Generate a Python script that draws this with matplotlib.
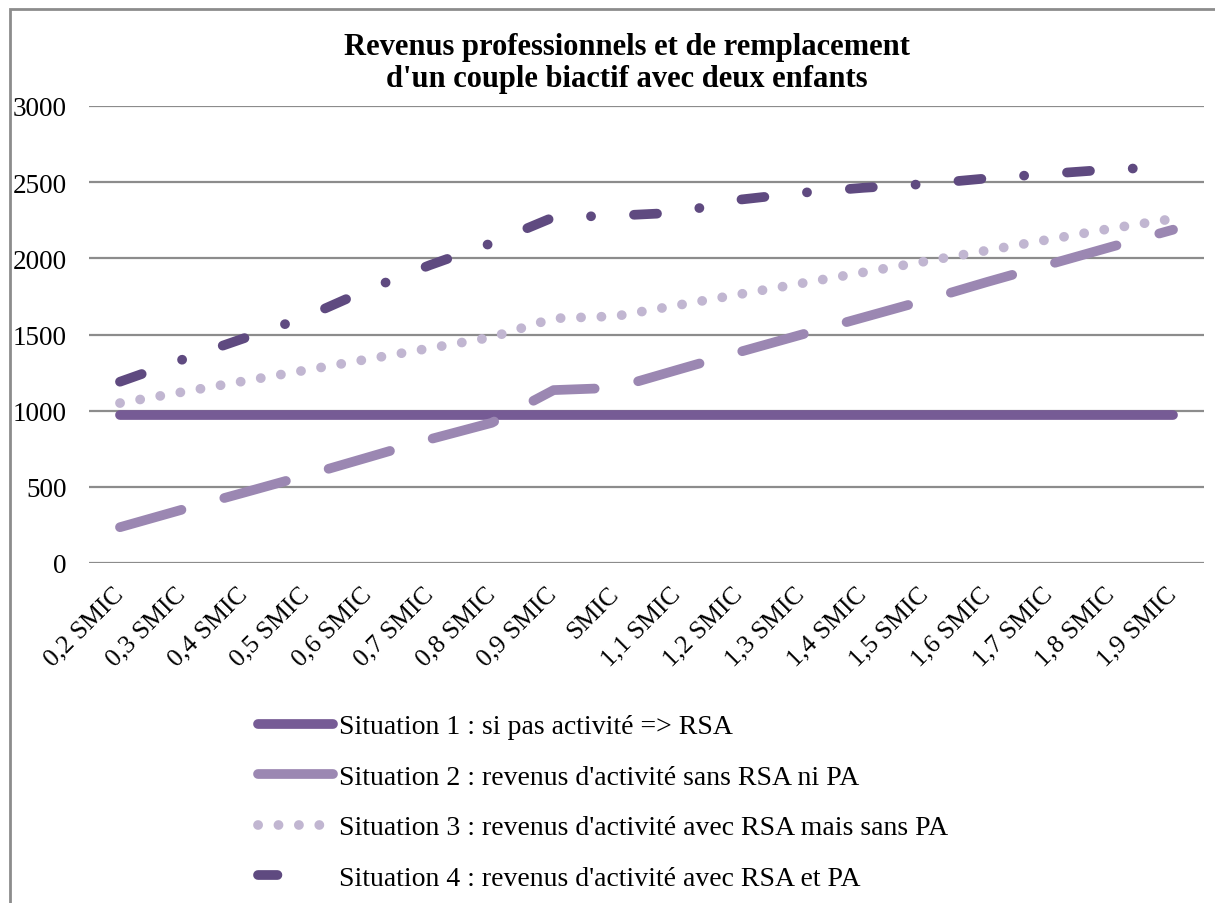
import matplotlib
matplotlib.use('Agg')
import matplotlib.pyplot as plt
from matplotlib.patches import Rectangle
from matplotlib.lines import Line2D

categories = ['0,2 SMIC', '0,3 SMIC', '0,4 SMIC', '0,5 SMIC', '0,6 SMIC', '0,7 SMIC',
              '0,8 SMIC', '0,9 SMIC', 'SMIC', '1,1 SMIC', '1,2 SMIC', '1,3 SMIC',
              '1,4 SMIC', '1,5 SMIC', '1,6 SMIC', '1,7 SMIC', '1,8 SMIC', '1,9 SMIC']
situation1 = [970, 970, 970, 970, 970, 970, 970, 970, 970, 970, 970, 970,
              970, 970, 970, 970, 970, 970]
situation2 = [235, 350, 462, 575, 693, 812, 920, 1135, 1150, 1268, 1385, 1499,
              1612, 1725, 1845, 1960, 2075, 2188]
situation3 = [1050, 1122, 1194, 1266, 1338, 1410, 1482, 1606, 1620, 1692, 1764, 1836,
              1908, 1980, 2052, 2124, 2196, 2260]
situation4 = [1190, 1334, 1475, 1615, 1795, 1955, 2100, 2270, 2280, 2300, 2385, 2430,
              2463, 2488, 2525, 2555, 2584, 2600]
labels = ['Situation 1 : si pas activité => RSA',
          "Situation 2 : revenus d'activité sans RSA ni PA",
          "Situation 3 : revenus d'activité avec RSA mais sans PA",
          "Situation 4 : revenus d'activité avec RSA et PA"]
title_lines = ["Revenus professionnels et de remplacement",
               "d'un couple biactif avec deux enfants"]
yticks = [0, 500, 1000, 1500, 2000, 2500, 3000]

plt.rcParams['font.family'] = ['Liberation Serif', 'DejaVu Serif']
plt.rcParams['lines.scale_dashes'] = False

W, H = 1215, 904
fig = plt.figure(figsize=(W / 100, H / 100), dpi=100)
ax = fig.add_axes([89 / W, 1 - 564 / H, 1115 / W, 457 / H])

c1 = '#765b95'
c2 = '#9b87b2'
c3 = '#c1b6d1'
c4 = '#5f4a80'
lw = 7.0
x = list(range(len(categories)))

l1, = ax.plot(x, situation1, color=c1, lw=lw, solid_capstyle='round', zorder=3)
l2, = ax.plot(x, situation2, color=c2, lw=lw, dashes=(46, 32), dash_capstyle='round',
              zorder=3)
l3, = ax.plot(x, situation3, color=c3, lw=lw, dashes=(0.1, 14.6), dash_capstyle='round',
              zorder=3)
l4, = ax.plot(x, situation4, color=c4, lw=lw, dashes=(16.6, 30.8, 0.1, 30.9),
              dash_capstyle='round', zorder=3)

ax.set_xlim(-0.5, len(categories) - 0.5)
ax.set_ylim(0, 3000)
ax.set_yticks(yticks)
ax.set_yticklabels([str(v) for v in yticks], fontsize=19.5)
ax.yaxis.grid(True, color='#8c8c8c', lw=1.6)
ax.set_axisbelow(True)
for s in ax.spines.values():
    s.set_visible(False)
ax.tick_params(axis='y', length=0, pad=16)
ax.tick_params(axis='x', length=0, pad=20)
ax.set_xticks(x)
ax.set_xticklabels(categories, fontsize=18.5, rotation=45, ha='right',
                   rotation_mode='anchor', va='center')

fig.text(627 / W, 1 - 47 / H, title_lines[0], ha='center', va='center',
         fontsize=22, fontweight='bold')
fig.text(627 / W, 1 - 80 / H, title_lines[1], ha='center', va='center',
         fontsize=22, fontweight='bold')

h1 = Line2D([], [], color=c1, lw=lw, solid_capstyle='round')
h2 = Line2D([], [], color=c2, lw=lw, solid_capstyle='round')
h3 = Line2D([], [], color=c3, lw=lw, dashes=(0.1, 14.6), dash_capstyle='round')
h4 = Line2D([], [], color=c4, lw=lw, dashes=(14, 200), dash_capstyle='round')
leg = ax.legend([h1, h2, h3, h4], labels, loc='upper left',
                bbox_to_anchor=(258 / W, 1 - 715 / H),
                bbox_transform=fig.transFigure, frameon=False, fontsize=20,
                handlelength=2.7, handletextpad=0.2, labelspacing=0.9,
                borderpad=0, borderaxespad=0)

fig.add_artist(Rectangle((10 / W, -0.1), 1.2, 1.1 - 10 / H, transform=fig.transFigure,
                         fill=False, edgecolor='#8c8c8c', lw=2, clip_on=False))

fig.savefig('out.png', dpi=100)
